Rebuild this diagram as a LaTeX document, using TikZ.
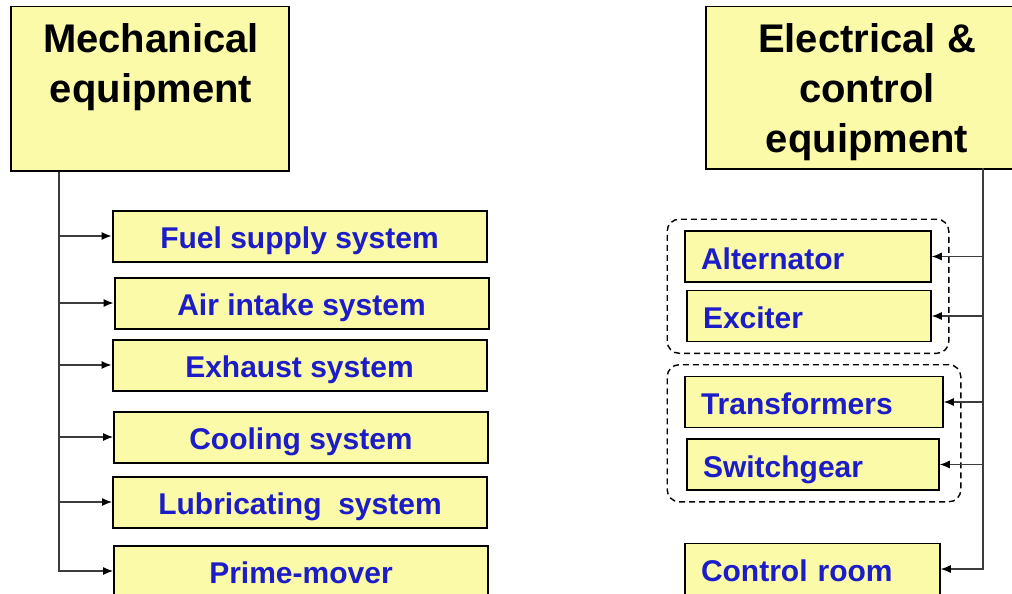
\documentclass[tikz,border=0pt]{standalone}
\usepackage{fontspec}
\setmainfont{Liberation Sans}
\usetikzlibrary{arrows.meta,fit}

\definecolor{boxyellow}{RGB}{250,250,168}
\definecolor{itemblue}{RGB}{28,28,200}
\definecolor{linkgray}{RGB}{60,60,60}

\tikzset{
  headbox/.style={draw, line width=1.5pt, fill=boxyellow, anchor=north west, inner sep=0pt},
  headtext/.style={anchor=north, align=center, inner sep=0pt, font=\fontsize{40}{50}\selectfont\bfseries},
  partbox/.style={draw, line width=2pt, fill=boxyellow, text=itemblue, minimum width=374pt, minimum height=51pt,
    inner sep=0pt, text height=25pt, text depth=0pt, font=\fontsize{30}{36}\selectfont\bfseries},
  unitbox/.style={partbox, minimum width=0pt, line width=1.6pt, align=left, inner xsep=16pt, inner ysep=0pt},
  group/.style={draw, line width=1.4pt, dash pattern=on 6pt off 4pt, rounded corners=12pt, inner xsep=17pt, inner ysep=11pt},
  feed/.style={draw=linkgray, line width=1.1pt, -{Latex[length=10pt,width=8pt,black]}}
}

\begin{document}
\begin{tikzpicture}[x=1pt,y=1pt,yscale=-1]
\useasboundingbox (0,0) rectangle (1012,594);

% mechanical side
\node[headbox, minimum width=278pt, minimum height=164pt] (mech) at (10,6) {};
\node[headtext] (mechtext) at (151,23) {Mechanical\\equipment};

\node[partbox] (fuel) at (299.5,236) {Fuel supply system};
\node[partbox] (air) at (301.5,303) {Air intake system};
\node[partbox] (exhaust) at (299.5,365) {Exhaust system};
\node[partbox] (cooling) at (301,437) {Cooling system};
\node[partbox] (lube) at (300,502) {Lubricating~ system};
\node[partbox] (prime) at (301,571) {Prime-mover};

\coordinate (mtop) at ([xshift=49pt]mech.south west);
\draw[feed] (mtop) |- (prime.west);
\foreach \b in {fuel,air,exhaust,cooling,lube}
  \draw[feed] (mtop |- \b.west) -- (\b.west);

% electrical side
\node[headbox, minimum width=324pt, minimum height=162pt] (elec) at (705,6) {};
\node[headtext] (electext) at (867,23) {Electrical \&\\control\\equipment};

\node[unitbox, text width=214pt] (alt) at (808,256.5) {Alternator};
\node[unitbox, text width=212pt] (exc) at (809,316) {Exciter};
\node[unitbox, text width=226pt] (trans) at (814,402) {Transformers};
\node[unitbox, text width=220pt] (switch) at (813,464.5) {Switchgear};
\node[unitbox, text width=223pt] (ctrl) at (812.5,569) {Control room};

\node[group, fit=(alt)(exc)] (gen) {};
\node[group, fit=(trans)(switch)] (dist) {};

\coordinate (etop) at (983,168);
\draw[feed] (etop) |- (ctrl.east);
\foreach \b in {alt,exc,trans,switch}
  \draw[feed] (etop |- \b.east) -- (\b.east);

\end{tikzpicture}
\end{document}
